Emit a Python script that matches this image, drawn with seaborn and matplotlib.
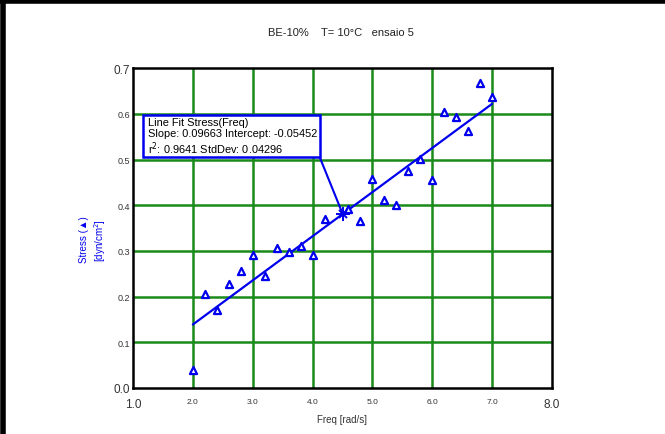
import matplotlib
matplotlib.use("Agg")
import matplotlib.pyplot as plt
import seaborn as sns
import numpy as np
import pandas as pd
from matplotlib.patches import Rectangle
from matplotlib.lines import Line2D

freq = [2.0, 2.2, 2.4, 2.6, 2.8, 3.0, 3.2, 3.4, 3.6, 3.8, 4.0, 4.2, 4.6, 4.8,
        5.0, 5.2, 5.4, 5.6, 5.8, 6.0, 6.2, 6.4, 6.6, 6.8, 7.0]
stress = [0.040, 0.205, 0.170, 0.228, 0.256, 0.290, 0.245, 0.307, 0.297, 0.310,
          0.290, 0.369, 0.391, 0.365, 0.457, 0.412, 0.400, 0.474, 0.502, 0.456,
          0.605, 0.592, 0.562, 0.667, 0.636]
slope = 0.09663
intercept = -0.05452
r2 = 0.9641
stddev = 0.04296
x_ticks = [1.0, 2.0, 3.0, 4.0, 5.0, 6.0, 7.0, 8.0]
y_ticks = [0.0, 0.1, 0.2, 0.3, 0.4, 0.5, 0.6, 0.7]

sns.set_theme(style="white")
plt.rcParams['font.family'] = ['Liberation Sans', 'DejaVu Sans']

fig = plt.figure(figsize=(6.65, 4.35), dpi=100)
ax = fig.add_axes([0.2, 0.106, 0.630, 0.735])

df = pd.DataFrame({"Freq": freq, "Stress": stress})
fx = np.array([min(freq), max(freq)])
fit = pd.DataFrame({"Freq": fx, "Stress": slope * fx + intercept})

ax.set_xlim(1.0, 8.0)
ax.set_ylim(0.0, 0.7)
ax.set_xticks(x_ticks)
ax.set_yticks(y_ticks)
ax.set_xticklabels([f"{v:.1f}" for v in x_ticks])
ax.set_yticklabels([f"{v:.1f}" for v in y_ticks])
for i, lab in enumerate(ax.get_xticklabels()):
    lab.set_fontsize(8.5 if i in (0, len(x_ticks) - 1) else 6)
    lab.set_color("#333333")
for i, lab in enumerate(ax.get_yticklabels()):
    lab.set_fontsize(8.5 if i in (0, len(y_ticks) - 1) else 6.5)
    lab.set_color("#333333")
ax.tick_params(axis='x', direction='in', length=4, width=1.2, color='black', pad=7)
ax.tick_params(axis='y', length=0, pad=2)

for v in x_ticks[1:-1]:
    ax.axvline(v, color='#1a8a1a', lw=1.8, zorder=1)
for v in y_ticks[1:-1]:
    ax.axhline(v, color='#1a8a1a', lw=1.8, zorder=1)

sns.lineplot(data=fit, x="Freq", y="Stress", ax=ax, color='#0000ee', lw=1.6, zorder=3)
sns.scatterplot(data=df, x="Freq", y="Stress", ax=ax, marker='^', s=26,
                facecolor='white', edgecolor='#0000ee', linewidth=1.6, zorder=4)

# mean point of fit
mx = float(np.mean(freq))
my = slope * mx + intercept
ax.plot([mx], [my], marker='+', ms=10, mew=1.4, color='#0000ee', zorder=5)
ax.plot([mx], [my], marker='x', ms=6, mew=1.4, color='#0000ee', zorder=5)

# annotation box
bx0, bx1, by0, by1 = 1.17, 4.12, 0.505, 0.597
ax.add_patch(Rectangle((bx0, by0), bx1 - bx0, by1 - by0, facecolor='white',
                       edgecolor='#0000ee', lw=1.8, zorder=6))
ax.plot([bx1, mx], [by0, my], color='#0000ee', lw=1.5, zorder=5)
ax.text(bx0 + 0.08, by1 - 0.005,
        "Line Fit Stress(Freq)\n"
        f"Slope: {slope:.5f} Intercept: {intercept:.5f}\n"
        f"r$^2$: {r2:.4f} StdDev: {stddev:.5f}",
        fontsize=7.9, va='top', ha='left', color='black', linespacing=1.1, zorder=7)

for s in ax.spines.values():
    s.set_color('black')
    s.set_linewidth(1.8)

ax.set_xlabel("Freq [rad/s]", fontsize=7, color='#333333', labelpad=3)
ax.set_ylabel("")
fig.text(0.127, 0.448, "Stress (▲)", rotation=90, color='#0000ee', fontsize=7,
         ha='center', va='center')
fig.text(0.150, 0.448, "[dyn/cm$^2$]", rotation=90, color='#0000ee', fontsize=7,
         ha='center', va='center')

fig.text(0.512, 0.925, "BE-10%    T= 10°C   ensaio 5", fontsize=8, ha='center',
         va='center', color='#222222')

fig.add_artist(Line2D([0, 1], [0.995, 0.995], transform=fig.transFigure, color='black', lw=4))
fig.add_artist(Line2D([0.004, 0.004], [0, 1], transform=fig.transFigure, color='black', lw=4))

fig.savefig("out.png", dpi=100)
